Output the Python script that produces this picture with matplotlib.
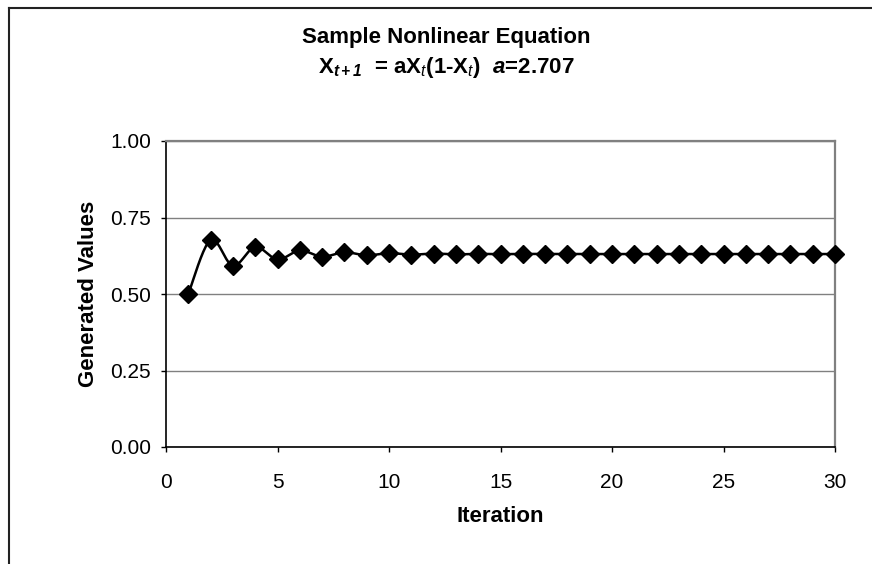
import numpy as np
import matplotlib
matplotlib.use("Agg")
import matplotlib.pyplot as plt
from matplotlib.lines import Line2D

plt.rcParams['font.family'] = ['Liberation Sans', 'DejaVu Sans']
plt.rcParams['mathtext.fontset'] = 'custom'
plt.rcParams['mathtext.rm'] = 'Liberation Sans'
plt.rcParams['mathtext.it'] = 'Liberation Sans:italic'
plt.rcParams['mathtext.bf'] = 'Liberation Sans:bold'
plt.rcParams['mathtext.bfit'] = 'Liberation Sans:bold:italic'

# ---- data ----
iterations = list(range(1, 31))
values = [0.5000, 0.6768, 0.5922, 0.6537, 0.6128, 0.6423, 0.6219, 0.6365,
          0.6263, 0.6336, 0.6285, 0.6321, 0.6295, 0.6313, 0.6301, 0.6310,
          0.6303, 0.6308, 0.6305, 0.6307, 0.6305, 0.6306, 0.6306, 0.6306,
          0.6306, 0.6306, 0.6306, 0.6306, 0.6306, 0.6306]
x_ticks = [0, 5, 10, 15, 20, 25, 30]
y_ticks = [0.00, 0.25, 0.50, 0.75, 1.00]
title_line1 = "Sample Nonlinear Equation"
title_line2 = (r"$\mathbf{X}_{\mathbfit{t+1}}$  = a$\mathbf{X}_{\mathit{t}}$(1-"
               r"$\mathbf{X}_{\mathit{t}}$)  $\mathbfit{a}$=2.707")
x_label = "Iteration"
y_label = "Generated Values"


def smooth(x, y, n=20):
    # Catmull-Rom smoothing for the connecting line (display only)
    x = np.asarray(x, float); y = np.asarray(y, float)
    px = np.concatenate([[x[0]], x, [x[-1]]])
    py = np.concatenate([[y[0]], y, [y[-1]]])
    xs, ys = [], []
    t = np.linspace(0, 1, n, endpoint=False)
    for i in range(1, len(px) - 2):
        p0, p1, p2, p3 = (np.array([px[j], py[j]]) for j in (i - 1, i, i + 1, i + 2))
        c1 = p1 + (p2 - p0) / 6.0
        c2 = p2 - (p3 - p1) / 6.0
        pts = ((1 - t)[:, None] ** 3 * p1 + 3 * ((1 - t) ** 2 * t)[:, None] * c1
               + 3 * ((1 - t) * t ** 2)[:, None] * c2 + (t ** 3)[:, None] * p2)
        xs.extend(pts[:, 0]); ys.extend(pts[:, 1])
    xs.append(x[-1]); ys.append(y[-1])
    return xs, ys


fig = plt.figure(figsize=(8.72, 5.64), dpi=100)
fig.patch.set_facecolor('white')
ax = fig.add_axes([166 / 872, 1 - 447 / 564, (835 - 166) / 872, (447 - 141) / 564])

sx, sy = smooth(iterations, values)
ax.plot(sx, sy, color='black', lw=1.8, zorder=3, clip_on=False)
ax.plot(iterations, values, linestyle='none', marker='D', markersize=9.5,
        color='black', zorder=4, clip_on=False)

ax.set_xlim(0, 30)
ax.set_ylim(0, 1)
ax.set_xticks(x_ticks)
ax.set_xticklabels([str(v) for v in x_ticks], fontsize=15)
ax.set_yticks(y_ticks)
ax.set_yticklabels([f"{v:.2f}" for v in y_ticks], fontsize=15)
ax.tick_params(axis='both', direction='out', length=3.8, width=1, color='black')
ax.tick_params(axis='x', pad=15)
ax.tick_params(axis='y', pad=7)
ax.yaxis.grid(True, color='#808080', lw=1)
ax.set_axisbelow(True)

for s in ('left', 'bottom'):
    ax.spines[s].set_color('black')
    ax.spines[s].set_linewidth(1.2)
for s in ('top', 'right'):
    ax.spines[s].set_color('#808080')
    ax.spines[s].set_linewidth(1.6)

ax.set_xlabel(x_label, fontsize=16, fontweight='bold', labelpad=10)
ax.set_ylabel(y_label, fontsize=16, fontweight='bold', labelpad=8)

fig.text(446 / 872, 1 - 37 / 564, title_line1, ha='center', va='center',
         fontsize=16, fontweight='bold')
fig.text(446 / 872, 1 - 68 / 564, title_line2, ha='center', va='center',
         fontsize=16, fontweight='bold')

# outer chart frame (only top and left edges visible)
fig.add_artist(Line2D([8.5 / 872, 1.0], [1 - 7.5 / 564, 1 - 7.5 / 564],
                      transform=fig.transFigure, color='#222222', lw=1.5))
fig.add_artist(Line2D([8.5 / 872, 8.5 / 872], [1 - 7.5 / 564, 0.0],
                      transform=fig.transFigure, color='#222222', lw=1.5))

fig.savefig('out.png', dpi=100)
